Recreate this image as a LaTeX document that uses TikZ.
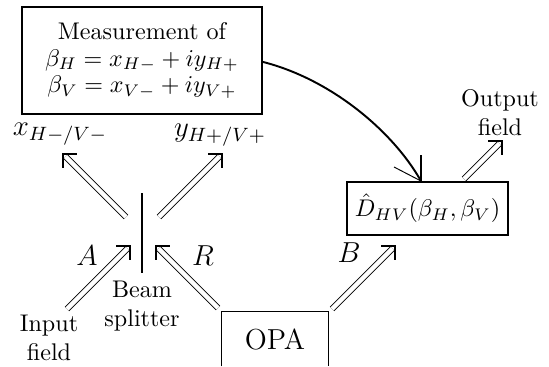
\documentclass[tikz,border=0pt]{standalone}
\usetikzlibrary{calc}
\begin{document}
\begin{tikzpicture}[x=0.415pt,y=-0.415pt,
  box/.style={draw, line width=0.8pt, inner sep=0pt, align=center},
  lbl/.style={align=center, inner sep=0pt},
  dbl/.style={double, double distance=1.8pt, line width=0.4pt, shorten >=1.6pt},
  headarm/.style={line width=0.8pt},
  bsline/.style={line width=0.8pt},
  ctrl/.style={line width=0.8pt},
]
\useasboundingbox (0,0) rectangle (549,366);

% boxes
\node[box, minimum width=99.6pt, minimum height=44.4pt, font=\fontsize{10}{11}\selectfont] (meas) at (142,60.5)
  {Measurement of\\ $\beta_H = x_{H-} + iy_{H+}$\\ $\beta_V = x_{V-} + iy_{V+}$};
\node[box, minimum width=66.8pt, minimum height=22pt, font=\fontsize{10.4}{12.5}\selectfont] (disp) at (427.5,208.5)
  {$\hat{D}_{HV}(\beta_H,\beta_V)$};
\node[lbl, minimum width=44pt, minimum height=22.4pt, font=\large] (opa) at (275,339) {OPA};
\draw[box] (opa.south west) -- (opa.north west) -- (opa.north east) -- (opa.south east);

% beam splitter
\coordinate (bstop) at (142,193);
\coordinate (bsbot) at (142,273);
\draw[bsline] (bstop) -- (bsbot);

% labels
\node[lbl, font=\large] (xlab) at (60,134) {$x_{H-/V-}$};
\node[lbl, font=\large] (ylab) at (220,135) {$y_{H+/V+}$};
\node[lbl, font=\large] (lA) at (87,256) {$A$};
\node[lbl, font=\large] (lR) at (203,256) {$R$};
\node[lbl, font=\large] (lB) at (349,253) {$B$};
\node[lbl] (bslab) at (142,306) {Beam\\splitter};
\node[lbl] (inlab) at (49,338) {Input\\field};
\node[lbl] (outlab) at (500,113) {Output\\field};

% arrow end points
\coordinate (xs) at (126,217);  \coordinate (xt) at (63,154);
\coordinate (ys) at (159,217);  \coordinate (yt) at (222,154);
\coordinate (as) at (67,309);   \coordinate (at) at (130,246);
\coordinate (rs) at (218,308);  \coordinate (rt) at (156,246);
\coordinate (bs) at (332,309);  \coordinate (bt) at (395,246);
\coordinate (os) at (464,179);  \coordinate (ot) at (502,141);

\foreach \s/\t in {xs/xt, ys/yt, as/at, rs/rt, bs/bt, os/ot}{
  \draw[dbl] (\s) -- (\t);
  \draw[headarm] ($(\t)!5.8pt!45:(\s)$) -- (\t) -- ($(\t)!5.8pt!-45:(\s)$);
}

% control curve
\coordinate (ctip) at (421,181);
\coordinate (carmA) at (421,155);
\coordinate (carmB) at (394,167);
\draw[ctrl] ([yshift=-0.6pt]meas.east) .. controls (330,79) and (392,130) .. (ctip);
\draw[ctrl] (carmA) -- (ctip);
\draw[line width=0.4pt] (carmB) -- (ctip);
\end{tikzpicture}
\end{document}
